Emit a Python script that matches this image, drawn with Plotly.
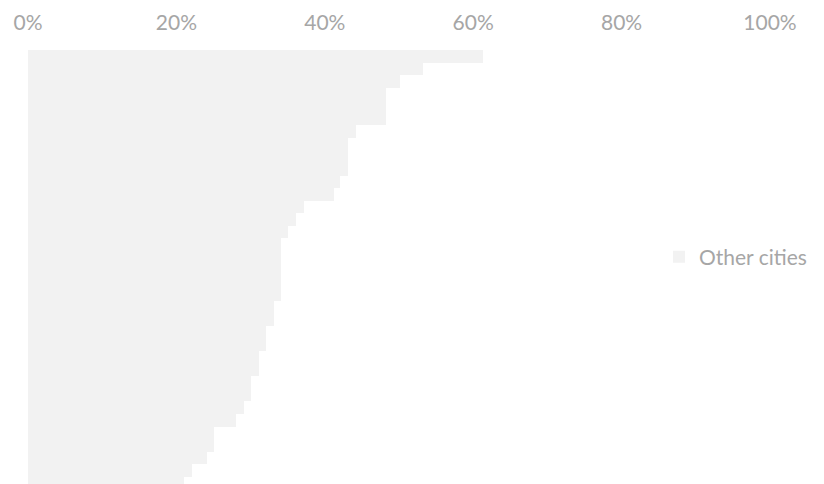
import plotly.graph_objects as go

series_name = "Other cities"
cities = [f"City {i+1}" for i in range(35)]
shares = [0.613, 0.532, 0.502, 0.482, 0.482, 0.482, 0.442, 0.431, 0.431, 0.431,
          0.421, 0.412, 0.372, 0.361, 0.351, 0.341, 0.341, 0.341, 0.341, 0.341,
          0.331, 0.331, 0.321, 0.321, 0.311, 0.311, 0.301, 0.301, 0.291, 0.280,
          0.251, 0.251, 0.241, 0.221, 0.210]
tick_vals = [0, 0.2, 0.4, 0.6, 0.8, 1.0]
tick_text = ["0%", "20%", "40%", "60%", "80%", "100%"]

font_family = "Lato, 'Noto Sans', sans-serif"
grey = "#a6a6a6"

fig = go.Figure()
fig.add_trace(go.Bar(
    x=shares,
    y=list(range(len(shares))),
    orientation="h",
    name=series_name,
    marker=dict(color="#f2f2f2", line=dict(width=0)),
    hovertext=cities,
    showlegend=True,
))

fig.update_layout(
    width=824, height=484,
    margin=dict(l=28, r=54, t=50, b=0),
    paper_bgcolor="white", plot_bgcolor="white",
    bargap=0,
    font=dict(family=font_family, color=grey, size=20),
    xaxis=dict(
        side="top", range=[0, 1], tickvals=tick_vals, ticktext=tick_text,
        showgrid=False, zeroline=False, showline=False,
        ticks="outside", ticklen=11, tickcolor="rgba(0,0,0,0)",
        tickfont=dict(size=21, color=grey, family=font_family),
    ),
    yaxis=dict(
        range=[34.08, -0.5], showticklabels=False, showgrid=False,
        zeroline=False, showline=False, ticks="",
    ),
    legend=dict(
        x=(659 - 28) / 742, xanchor="left", y=0.523, yanchor="middle",
        font=dict(size=21, color=grey, family=font_family),
        bgcolor="rgba(0,0,0,0)", itemwidth=30,
    ),
)

fig.write_html("out.html")
